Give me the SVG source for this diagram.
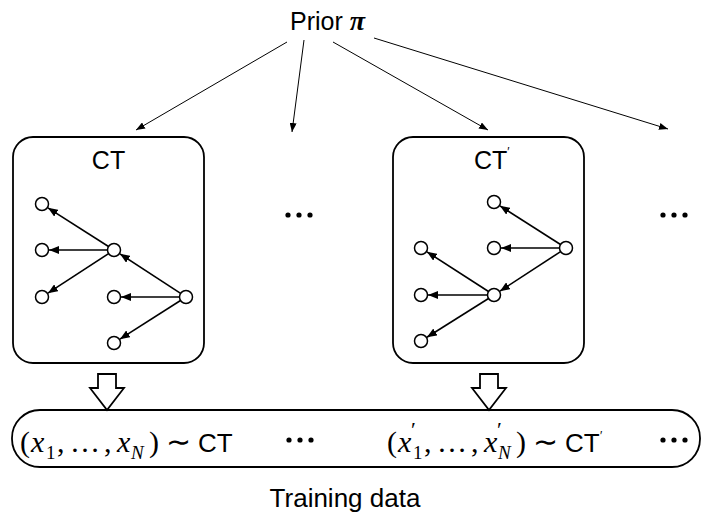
<svg xmlns="http://www.w3.org/2000/svg" width="703" height="519" viewBox="0 0 703 519">
<style>
.box{fill:none;stroke:#000;stroke-width:1.8}
.node{fill:#fff;stroke:#000;stroke-width:1.5}
.edge{stroke:#000;stroke-width:1.6;fill:none}
.prior{stroke:#000;stroke-width:1;fill:none}
.blk{fill:#fff;stroke:#000;stroke-width:1.8;stroke-linejoin:miter}
.sans{font-family:"Liberation Sans",Arial,sans-serif;fill:#000}
.math{font-family:"Liberation Serif","Times New Roman",serif;fill:#000}
.it{font-style:italic}
.dot{fill:#000}
</style>
<defs>
<marker id="ah" markerUnits="userSpaceOnUse" markerWidth="11" markerHeight="8" refX="10" refY="4" orient="auto"><path d="M0,0 L10,4 L0,8 z" fill="#000"/></marker>
<marker id="ahs" markerUnits="userSpaceOnUse" markerWidth="10" markerHeight="7" refX="9" refY="3.5" orient="auto"><path d="M0,0 L9,3.5 L0,7 z" fill="#000"/></marker>
</defs>

<g id="prior">
<text class="sans" x="290" y="30" font-size="25">Prior <tspan class="math it" font-weight="bold" font-size="28">π</tspan></text>
</g>

<g id="connectors">
<line class="prior" x1="287" y1="42" x2="136" y2="130" marker-end="url(#ahs)"/>
<line class="prior" x1="304" y1="40" x2="292" y2="132" marker-end="url(#ahs)"/>
<line class="prior" x1="333" y1="42" x2="488" y2="130" marker-end="url(#ahs)"/>
<line class="prior" x1="374" y1="38" x2="668" y2="129" marker-end="url(#ahs)"/>
<polygon class="blk" points="98,374 116,374 116,388 124,388 107,410 90,388 98,388"/>
<polygon class="blk" points="480,374 498,374 498,388 506,388 489,410 472,388 480,388"/>
</g>

<g id="ct">
<rect class="box" x="13" y="137" width="191" height="226" rx="20"/>
<text class="sans" x="108.5" y="169" font-size="25" text-anchor="middle">CT</text>
<g class="edges">
<line class="edge" x1="108.5" y1="246.5" x2="47.9" y2="207.8" marker-end="url(#ah)"/>
<line class="edge" x1="107.5" y1="250" x2="49" y2="250" marker-end="url(#ah)"/>
<line class="edge" x1="108.6" y1="253.6" x2="47.9" y2="293.2" marker-end="url(#ah)"/>
<line class="edge" x1="180.6" y1="293.4" x2="119.9" y2="253.8" marker-end="url(#ah)"/>
<line class="edge" x1="179.5" y1="297" x2="121" y2="297" marker-end="url(#ah)"/>
<line class="edge" x1="180.5" y1="300.5" x2="119.9" y2="339.2" marker-end="url(#ah)"/>
</g>
<circle class="node" cx="42" cy="204" r="6.5"/>
<circle class="node" cx="42" cy="250" r="6.5"/>
<circle class="node" cx="42" cy="297" r="6.5"/>
<circle class="node" cx="114" cy="250" r="6.5"/>
<circle class="node" cx="186" cy="297" r="6.5"/>
<circle class="node" cx="114" cy="297" r="6.5"/>
<circle class="node" cx="114" cy="343" r="6.5"/>
</g>

<g id="dots1">
<circle class="dot" cx="288" cy="215" r="2.6"/>
<circle class="dot" cx="299" cy="215" r="2.6"/>
<circle class="dot" cx="310" cy="215" r="2.6"/>
</g>

<g id="ctprime">
<rect class="box" x="393" y="137" width="191" height="226" rx="20"/>
<text class="sans" x="474" y="169" font-size="25">CT<tspan font-size="12" dy="-13">′</tspan></text>
<g class="edges">
<line class="edge" x1="560.5" y1="244.5" x2="499.9" y2="205.8" marker-end="url(#ah)"/>
<line class="edge" x1="559.5" y1="248" x2="501" y2="248" marker-end="url(#ah)"/>
<line class="edge" x1="560.6" y1="251.6" x2="499.9" y2="291.2" marker-end="url(#ah)"/>
<line class="edge" x1="488.5" y1="291.5" x2="426.9" y2="251.8" marker-end="url(#ah)"/>
<line class="edge" x1="487.5" y1="295" x2="428" y2="295" marker-end="url(#ah)"/>
<line class="edge" x1="488.5" y1="298.5" x2="426.9" y2="337.3" marker-end="url(#ah)"/>
</g>
<circle class="node" cx="494" cy="202" r="6.5"/>
<circle class="node" cx="494" cy="248" r="6.5"/>
<circle class="node" cx="566" cy="248" r="6.5"/>
<circle class="node" cx="421" cy="248" r="6.5"/>
<circle class="node" cx="494" cy="295" r="6.5"/>
<circle class="node" cx="421" cy="295" r="6.5"/>
<circle class="node" cx="421" cy="341" r="6.5"/>
</g>

<g id="dots2">
<circle class="dot" cx="663" cy="215" r="2.6"/>
<circle class="dot" cx="674" cy="215" r="2.6"/>
<circle class="dot" cx="685" cy="215" r="2.6"/>
</g>

<g id="data">
<rect class="box" x="12" y="410" width="688" height="57" rx="28"/>
<text class="math" font-size="30"><tspan x="20" y="452">(</tspan><tspan class="it" x="31" y="452">x</tspan><tspan font-size="19" x="46" y="459">1</tspan><tspan x="57" y="452">,</tspan><tspan x="70" y="452">…</tspan><tspan x="104" y="452">,</tspan><tspan class="it" x="117" y="452">x</tspan><tspan class="it" font-size="19" x="131" y="459">N</tspan><tspan x="149" y="452">)</tspan><tspan x="166" y="452">∼</tspan><tspan class="sans" font-size="26" x="198" y="452">CT</tspan></text>
<circle class="dot" cx="289" cy="440" r="2.6"/>
<circle class="dot" cx="300" cy="440" r="2.6"/>
<circle class="dot" cx="311" cy="440" r="2.6"/>
<text class="math" font-size="30"><tspan x="387" y="452">(</tspan><tspan class="it" x="398" y="452">x</tspan><tspan font-size="22" x="411" y="437">′</tspan><tspan font-size="19" x="413" y="459">1</tspan><tspan x="424" y="452">,</tspan><tspan x="437" y="452">…</tspan><tspan x="471" y="452">,</tspan><tspan class="it" x="484" y="452">x</tspan><tspan font-size="22" x="497" y="437">′</tspan><tspan class="it" font-size="19" x="498" y="459">N</tspan><tspan x="516" y="452">)</tspan><tspan x="533" y="452">∼</tspan><tspan class="sans" font-size="26" x="565" y="452">CT</tspan><tspan class="sans" font-size="12" x="600" y="440">′</tspan></text>
<circle class="dot" cx="663" cy="440" r="2.6"/>
<circle class="dot" cx="674" cy="440" r="2.6"/>
<circle class="dot" cx="685" cy="440" r="2.6"/>
<text class="sans" x="345" y="507" font-size="26" text-anchor="middle">Training data</text>
</g>
</svg>
